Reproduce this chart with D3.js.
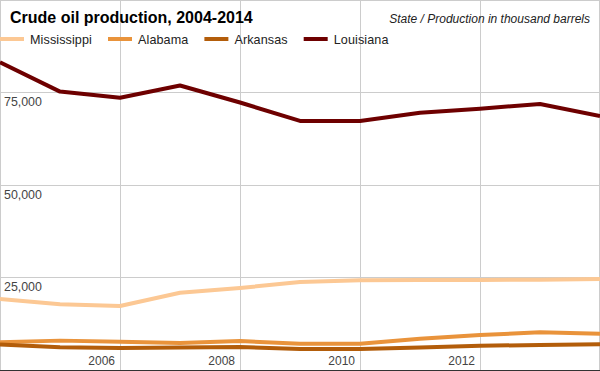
<!DOCTYPE html>
<html>
<head>
<meta charset="utf-8">
<script src="https://cdn.jsdelivr.net/npm/d3@7"></script>
<style>
  html, body { margin: 0; padding: 0; background: #fff; }
  svg { display: block; font-family: "Liberation Sans", Arial, sans-serif; }
</style>
</head>
<body>
<div id="chart"></div>
<script>
// Crude oil production, thousand barrels
const years = [2004, 2005, 2006, 2007, 2008, 2009, 2010, 2011, 2012, 2013, 2014];
const states = ["Mississippi", "Alabama", "Arkansas", "Louisiana"];
const mississippi = [19200, 17800, 17300, 20900, 22200, 23800, 24300, 24350, 24350, 24450, 24600];
const alabama = [7500, 7950, 7650, 7300, 7850, 7100, 7100, 8450, 9450, 10200, 9800];
const arkansas = [6900, 6150, 5980, 6060, 6250, 5700, 5700, 6060, 6550, 6780, 6980];
const louisiana = [83300, 75350, 73700, 77000, 72400, 67400, 67400, 69600, 70700, 72000, 68700];
const stateColors = ["#fcc894", "#e9933b", "#b35d0a", "#6e0000"];
const xTickYears = [2006, 2008, 2010, 2012];
const yTicks = [25000, 50000, 75000];

const width = 600;
const height = 371;

const series = [mississippi, alabama, arkansas, louisiana].map((vals, i) => ({
  name: states[i],
  color: stateColors[i],
  values: vals.map((v, j) => ({ year: years[j], value: v })),
}));

const svg = d3
  .select("#chart")
  .append("svg")
  .attr("width", width)
  .attr("height", height);

// Scales
const xScale = d3.scaleLinear().domain([2004, 2014]).range([0, 600]);
const yScale = d3.scaleLinear().domain([0, 100000]).range([370, 0.5]);

const snap = (v) => Math.min(Math.floor(v), width - 1) + 0.5;

// Grid lines
svg
  .selectAll(".grid-x")
  .data(d3.range(2004, 2015, 2))
  .enter()
  .append("line")
  .attr("x1", (d) => snap(xScale(d)))
  .attr("x2", (d) => snap(xScale(d)))
  .attr("y1", 0)
  .attr("y2", 370)
  .style("stroke", "#cccccc");

svg
  .selectAll(".grid-y")
  .data([25000, 50000, 75000, 100000])
  .enter()
  .append("line")
  .attr("x1", 0)
  .attr("x2", width)
  .attr("y1", (d) => Math.floor(yScale(d)) + 0.5)
  .attr("y2", (d) => Math.floor(yScale(d)) + 0.5)
  .style("stroke", "#cccccc");

// Baseline
svg
  .append("line")
  .attr("x1", 0)
  .attr("x2", width)
  .attr("y1", yScale(0) + 0.5)
  .attr("y2", yScale(0) + 0.5)
  .style("stroke", "#333333");

// Lines
const line = d3
  .line()
  .x((d) => xScale(d.year))
  .y((d) => yScale(d.value));

series.forEach((s) => {
  svg
    .append("path")
    .datum(s.values)
    .attr("fill", "none")
    .attr("stroke", s.color)
    .attr("stroke-width", 4)
    .attr("stroke-linejoin", "round")
    .attr("d", line);
});

// Axis labels
svg
  .selectAll(".y-label")
  .data(yTicks)
  .enter()
  .append("text")
  .attr("x", 4)
  .attr("y", (d) => Math.floor(yScale(d)) + 14)
  .style("font-size", "12.4px")
  .style("fill", "#444444")
  .text((d) => d3.format(",")(d));

svg
  .selectAll(".x-label")
  .data(xTickYears)
  .enter()
  .append("text")
  .attr("x", (d) => xScale(d) - 5)
  .attr("y", 365)
  .attr("text-anchor", "end")
  .style("font-size", "12px")
  .style("fill", "#444444")
  .text((d) => d);

// Title and subtitle
svg
  .append("text")
  .attr("x", 10)
  .attr("y", 23)
  .style("font-size", "16px")
  .style("font-weight", "bold")
  .style("fill", "#000000")
  .text("Crude oil production, 2004-2014");

svg
  .append("text")
  .attr("x", 590)
  .attr("y", 23)
  .attr("text-anchor", "end")
  .style("font-size", "12px")
  .style("font-style", "italic")
  .style("fill", "#222222")
  .text("State / Production in thousand barrels");

// Legend
let lx = 0;
series.forEach((s) => {
  const g = svg.append("g").attr("transform", `translate(${lx},0)`);
  g.append("line")
    .attr("x1", 0)
    .attr("x2", 24)
    .attr("y1", 39)
    .attr("y2", 39)
    .attr("stroke", s.color)
    .attr("stroke-width", 4);
  const t = g
    .append("text")
    .attr("x", 30)
    .attr("y", 43.5)
    .style("font-size", "12.6px")
    .style("letter-spacing", "0.1px")
    .style("fill", "#222222")
    .text(s.name);
  lx += 30 + t.node().getComputedTextLength() + 16;
});
</script>
</body>
</html>
